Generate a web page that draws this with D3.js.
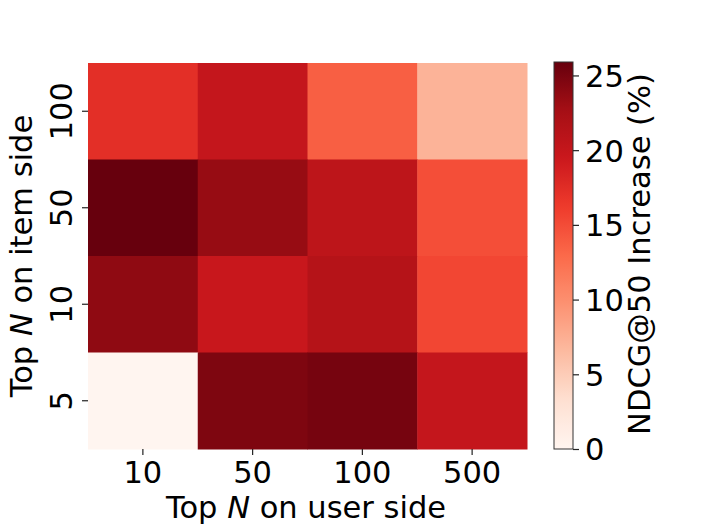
<!DOCTYPE html>
<html>
<head>
<meta charset="utf-8">
<script src="https://cdn.jsdelivr.net/npm/d3@7"></script>
<style>
  html, body { margin: 0; padding: 0; background: #fff; }
  svg { display: block; font-family: "DejaVu Sans", sans-serif; }
</style>
</head>
<body>
<svg id="chart" width="706" height="529"></svg>
<script>
// ---- data ----
const userSide = ["10", "50", "100", "500"];          // x categories
const itemSide = ["100", "50", "10", "5"];            // y categories (top to bottom)
const row100 = [17.3, 20.0, 13.7, 7.1];
const row50  = [25.9, 23.4, 20.6, 14.9];
const row10  = [23.8, 19.7, 21.3, 15.4];
const row5   = [0.0, 24.7, 25.1, 20.0];
const colorbarTicks = [0, 5, 10, 15, 20, 25];
const vmin = 0, vmax = 25.9;
const redsStops = ["#fff5f0","#fee0d2","#fcbba1","#fc9272","#fb6a4a","#ef3b2c","#cb181d","#a50f15","#67000d"];

(function () {
const rows = { "100": row100, "50": row50, "10": row10, "5": row5 };
const cells = [];
itemSide.forEach(r => userSide.forEach((c, i) => cells.push({ r, c, v: rows[r][i] })));

// ---- layout ----
const svg = d3.select("#chart");
const mLeft = 88, mRight = 527, mTop = 63, mBottom = 449;
const fs = 30.5;

const x = d3.scaleBand().domain(userSide).range([mLeft, mRight]).padding(0);
const y = d3.scaleBand().domain(itemSide).range([mTop, mBottom]).padding(0);
const color = d3.scaleLinear()
  .domain(redsStops.map((_, i) => vmin + (vmax - vmin) * i / (redsStops.length - 1)))
  .range(redsStops)
  .interpolate(d3.interpolateRgb)
  .clamp(true);

svg.append("g").selectAll("rect").data(cells).join("rect")
  .attr("x", d => x(d.c))
  .attr("y", d => y(d.r))
  .attr("width", x.bandwidth() + 0.5)
  .attr("height", y.bandwidth() + 0.5)
  .attr("fill", d => color(d.v));

// x axis
const xAxis = svg.append("g").attr("transform", `translate(0,${mBottom})`)
  .call(d3.axisBottom(x).tickSize(6).tickPadding(8));
xAxis.select(".domain").remove();
xAxis.selectAll(".tick line").attr("stroke", "#222").attr("stroke-width", 1.2);
xAxis.selectAll(".tick text").attr("font-size", fs).attr("fill", "#000")
  .attr("font-family", "DejaVu Sans").attr("dy", null).attr("y", 34);

// y axis
const yAxis = svg.append("g").attr("transform", `translate(${mLeft},0)`)
  .call(d3.axisLeft(y).tickSize(6));
yAxis.select(".domain").remove();
yAxis.selectAll(".tick line").attr("stroke", "#222").attr("stroke-width", 1.2);
yAxis.selectAll(".tick text").attr("font-size", fs).attr("fill", "#000")
  .attr("font-family", "DejaVu Sans")
  .attr("x", null).attr("dy", null)
  .attr("text-anchor", "middle")
  .attr("transform", "translate(-16.5,0) rotate(-90)");

// axis labels
const xl = svg.append("text").attr("x", 306).attr("y", 518)
  .attr("text-anchor", "middle").attr("font-size", fs).attr("fill", "#000");
xl.append("tspan").text("Top ");
xl.append("tspan").attr("font-style", "italic").text("N");
xl.append("tspan").text(" on user side");

const yl = svg.append("text").attr("transform", `translate(32.3,${(mTop + mBottom) / 2}) rotate(-90)`)
  .attr("text-anchor", "middle").attr("font-size", fs).attr("fill", "#000");
yl.append("tspan").text("Top ");
yl.append("tspan").attr("font-style", "italic").text("N");
yl.append("tspan").text(" on item side");

// colorbar
const cbX = 554, cbW = 19, cbTop = 62, cbBottom = 449;
const cbScale = d3.scaleLinear().domain([vmin, vmax]).range([cbBottom, cbTop]);
const defs = svg.append("defs");
const grad = defs.append("linearGradient").attr("id", "cbgrad")
  .attr("x1", 0).attr("y1", 1).attr("x2", 0).attr("y2", 0);
d3.range(0, 1.0001, 0.02).forEach(t => {
  grad.append("stop").attr("offset", t).attr("stop-color", color(vmin + t * (vmax - vmin)));
});
svg.append("rect").attr("x", cbX).attr("y", cbTop).attr("width", cbW).attr("height", cbBottom - cbTop)
  .attr("fill", "url(#cbgrad)").attr("stroke", "#333").attr("stroke-width", 1);

const cbAxis = svg.append("g").attr("transform", `translate(${cbX + cbW},0)`)
  .call(d3.axisRight(cbScale).tickValues(colorbarTicks).tickSize(6).tickPadding(6));
cbAxis.select(".domain").remove();
cbAxis.selectAll(".tick line").attr("stroke", "#222").attr("stroke-width", 1.2);
cbAxis.selectAll(".tick text").attr("font-size", fs).attr("fill", "#000")
  .attr("font-family", "DejaVu Sans").attr("dy", "0.36em");

svg.append("text").attr("transform", `translate(650,254) rotate(-90)`)
  .attr("text-anchor", "middle").attr("font-size", fs).attr("fill", "#000")
  .text("NDCG@50 Increase (%)");
})();
</script>
</body>
</html>
